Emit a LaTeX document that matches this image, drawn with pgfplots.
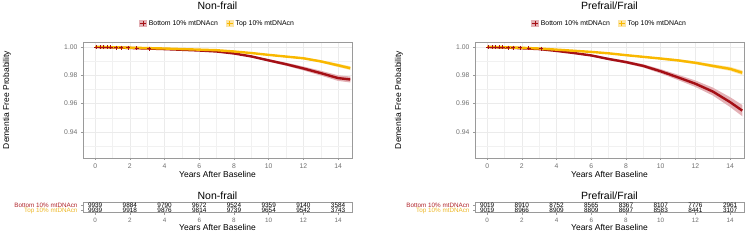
\documentclass[border=0pt]{standalone}
\usepackage{fontspec}
\setmainfont{Liberation Sans}
\usepackage{pgfplots}
\usepackage{pgfplotstable}
\pgfplotsset{compat=1.18}
\definecolor{redline}{HTML}{A50F15}
\definecolor{yelline}{HTML}{F9B800}
\definecolor{redband}{HTML}{E3B1B6}
\definecolor{yelband}{HTML}{FCE5A6}
\definecolor{ticktext}{HTML}{6E6E6E}
\definecolor{gridc}{HTML}{EBEBEB}
\definecolor{borderc}{HTML}{9A9A9A}
\definecolor{redlab}{HTML}{B0262C}
\definecolor{yellab}{HTML}{EDB82A}

% Non-frail, bottom 10%: estimate and 95% band (upper forward, lower back)
\pgfplotstableread{
t s
0 1.0000
1 0.9997
2 0.9993
3 0.9989
4 0.9985
5 0.9980
6 0.9975
7 0.9968
8 0.9954
9 0.9933
10 0.9905
11 0.9878
12 0.9848
13 0.9815
14 0.9780
14.7 0.9770
}\nfbot
\pgfplotstableread{
t v
0 1.0000
1 0.9998
2 0.9994
3 0.9990
4 0.9987
5 0.9982
6 0.9977
7 0.9971
8 0.9958
9 0.9939
10 0.9914
11 0.9889
12 0.9862
13 0.9832
14 0.9800
14.7 0.9791
14.7 0.9749
14 0.9760
13 0.9798
12 0.9834
11 0.9867
10 0.9896
9 0.9927
8 0.9950
7 0.9965
6 0.9973
5 0.9978
4 0.9983
3 0.9988
2 0.9992
1 0.9996
0 1.0000
}\nfbotband
% Non-frail, top 10%
\pgfplotstableread{
t s
0 1.0000
1 0.9998
2 0.9995
3 0.9992
4 0.9989
5 0.9985
6 0.9981
7 0.9977
8 0.9968
9 0.9957
10 0.9944
11 0.9932
12 0.9920
13 0.9898
14 0.9870
14.7 0.9850
}\nftop
\pgfplotstableread{
t v
0 1.0000
1 0.9999
2 0.9996
3 0.9993
4 0.9990
5 0.9986
6 0.9983
7 0.9979
8 0.9971
9 0.9961
10 0.9949
11 0.9938
12 0.9927
13 0.9907
14 0.9882
14.7 0.9863
14.7 0.9837
14 0.9858
13 0.9889
12 0.9913
11 0.9926
10 0.9939
9 0.9953
8 0.9965
7 0.9975
6 0.9979
5 0.9984
4 0.9988
3 0.9991
2 0.9994
1 0.9997
0 1.0000
}\nftopband
% Prefrail/Frail, bottom 10%
\pgfplotstableread{
t s
0 1.0000
1 0.9996
2 0.9991
3 0.9985
4 0.9972
5 0.9957
6 0.9940
7 0.9915
8 0.9893
9 0.9866
10 0.9828
11 0.9785
12 0.9740
13 0.9685
14 0.9610
14.7 0.9550
}\pfbot
\pgfplotstableread{
t v
0 1.0000
1 0.9997
2 0.9992
3 0.9986
4 0.9975
5 0.9961
6 0.9945
7 0.9923
8 0.9903
9 0.9878
10 0.9843
11 0.9804
12 0.9763
13 0.9713
14 0.9645
14.7 0.9590
14.7 0.9510
14 0.9575
13 0.9657
12 0.9717
11 0.9766
10 0.9813
9 0.9854
8 0.9883
7 0.9907
6 0.9935
5 0.9953
4 0.9969
3 0.9984
2 0.9990
1 0.9995
0 1.0000
}\pfbotband
% Prefrail/Frail, top 10%
\pgfplotstableread{
t s
0 1.0000
1 0.9998
2 0.9994
3 0.9989
4 0.9981
5 0.9973
6 0.9965
7 0.9955
8 0.9942
9 0.9930
10 0.9918
11 0.9905
12 0.9888
13 0.9866
14 0.9845
14.7 0.9818
}\pftop
\pgfplotstableread{
t v
0 1.0000
1 0.9999
2 0.9995
3 0.9990
4 0.9983
5 0.9975
6 0.9968
7 0.9959
8 0.9947
9 0.9936
10 0.9925
11 0.9914
12 0.9898
13 0.9878
14 0.9859
14.7 0.9834
14.7 0.9802
14 0.9831
13 0.9854
12 0.9878
11 0.9896
10 0.9911
9 0.9924
8 0.9937
7 0.9951
6 0.9962
5 0.9971
4 0.9979
3 0.9988
2 0.9993
1 0.9997
0 1.0000
}\pftopband
% censoring marks (early)
\pgfplotstableread{
t s
0.05 1.0000
0.3 0.9999
0.5 0.9999
0.7 0.9998
0.9 0.9997
1.2 0.9996
1.5 0.9995
1.9 0.9994
2.4 0.9992
3.1 0.9989
}\cens
% number at risk
\pgfplotstableread{
t r n
0 2 9939
2 2 9884
4 2 9790
6 2 9672
8 2 9524
10 2 9359
12 2 9140
14 2 3584
0 1 9939
2 1 9918
4 1 9876
6 1 9814
8 1 9739
10 1 9654
12 1 9542
14 1 3743
}\nfrisk
\pgfplotstableread{
t r n
0 2 9019
2 2 8910
4 2 8752
6 2 8565
8 2 8367
10 2 8107
12 2 7776
14 2 2961
0 1 9019
2 1 8966
4 1 8909
6 1 8809
8 1 8697
10 1 8583
12 1 8441
14 1 3107
}\pfrisk

\pgfplotsset{
  common/.style={
    scale only axis, width=269pt,
    xmin=-0.7, xmax=14.8,
    xtick={0,2,...,14}, xtick pos=left, ytick pos=left,
    tick align=outside, major tick length=2pt,
    axis line style={borderc, line width=0.6pt},
    tick style={borderc, line width=0.5pt},
    /pgf/number format/assume math mode=true,
    ticklabel style={font=\fontsize{6.8}{8}\selectfont, text=ticktext},
    xlabel={Years After Baseline},
    label style={font=\fontsize{8.5}{10}\selectfont, inner sep=0pt},
    every axis title shift=0pt,
    title style={font=\fontsize{10.5}{12}\selectfont, anchor=base, inner sep=0pt},
  },
  kmaxis/.style={
    common, height=116pt,
    ymin=0.9215, ymax=1.0035,
    ytick={0.94,0.96,0.98,1.00},
    minor xtick={1,3,...,13}, minor ytick={0.93,0.95,0.97,0.99},
    minor tick length=0pt,
    grid=both,
    major grid style={gridc, line width=0.5pt},
    minor grid style={gridc!70, line width=0.3pt},
    yticklabel style={/pgf/number format/fixed, /pgf/number format/fixed zerofill, /pgf/number format/precision=2},
    ylabel={Dementia Free Probability},
    ylabel style={at={(axis description cs:-0.283,0.5)}, anchor=center},
    xlabel style={at={(axis description cs:0.5,-0.11)}, anchor=north},
    title style={at={(axis description cs:0.5,1.284)}},
    legend style={at={(axis description cs:0.5,1.16)}, anchor=center, draw=none, fill=none,
      font=\fontsize{6.9}{8}\selectfont,
      /tikz/every even column/.append style={column sep=6pt}},
    legend columns=2, legend cell align=left,
  },
  tabaxis/.style={
    common, height=10pt,
    ymin=0.5, ymax=2.5, ytick={1,2},
    ticklabel style={font=\fontsize{6.3}{7}\selectfont},
    yticklabel style={inner ysep=0pt, text height=4.2pt, text depth=0pt},
    yticklabels={\textcolor{yellab}{Top 10\% mtDNAcn},\textcolor{redlab}{Bottom 10\% mtDNAcn}},
    xmajorgrids, major grid style={gridc, line width=0.4pt},
    xlabel style={at={(axis description cs:0.5,-1.12)}, anchor=north},
    title style={at={(axis description cs:0.5,1.27)}},
  },
  riskplot/.style={draw=none, mark=none,
    nodes near coords, point meta=explicit symbolic,
    nodes near coords style={anchor=center, font=\fontsize{6.4}{7}\selectfont, text=black, inner sep=0pt}},
}

\newcommand{\redkey}{\addlegendimage{legend image code/.code={
  \fill[redband] (0pt,-3.2pt) rectangle (6.5pt,3.2pt);
  \draw[redline,line width=1.3pt] (0pt,0pt)--(6.5pt,0pt);
  \draw[redline,line width=0.8pt] (3.25pt,-2.6pt)--(3.25pt,2.6pt);}}}
\newcommand{\yelkey}{\addlegendimage{legend image code/.code={
  \fill[yelband] (0pt,-3.2pt) rectangle (6.5pt,3.2pt);
  \draw[yelline,line width=1.3pt] (0pt,0pt)--(6.5pt,0pt);
  \draw[yelline,line width=0.8pt] (3.25pt,-2.6pt)--(3.25pt,2.6pt);}}}

\begin{document}
\begin{tikzpicture}
\useasboundingbox (0,0) rectangle (745pt,243pt);

% ---------- Left: Non-frail ----------
\begin{axis}[kmaxis, at={(83pt,85pt)}, anchor=south west, title={Non-frail}]
  \redkey \addlegendentry{Bottom 10\% mtDNAcn}
  \yelkey \addlegendentry{Top 10\% mtDNAcn}
  \addplot[fill=redband, draw=none, forget plot] table[x=t,y=v]{\nfbotband};
  \addplot[fill=yelband, draw=none, forget plot] table[x=t,y=v]{\nftopband};
  \addplot[redline, line width=2.4pt, forget plot] table[x=t,y=s]{\nfbot};
  \addplot[yelline, line width=2.4pt, forget plot] table[x=t,y=s]{\nftop};
  \addplot[only marks, mark=+, mark size=2pt, redline, line width=0.7pt, forget plot] table[x=t,y=s]{\cens};
\end{axis}

\begin{axis}[tabaxis, at={(83pt,30.3pt)}, anchor=south west, title={Non-frail}]
  \addplot[riskplot] table[x=t,y=r,meta=n]{\nfrisk};
\end{axis}

% ---------- Right: Prefrail/Frail ----------
\begin{axis}[kmaxis, at={(475pt,85pt)}, anchor=south west, title={Prefrail/Frail}]
  \redkey \addlegendentry{Bottom 10\% mtDNAcn}
  \yelkey \addlegendentry{Top 10\% mtDNAcn}
  \addplot[fill=redband, draw=none, forget plot] table[x=t,y=v]{\pfbotband};
  \addplot[fill=yelband, draw=none, forget plot] table[x=t,y=v]{\pftopband};
  \addplot[redline, line width=2.4pt, forget plot] table[x=t,y=s]{\pfbot};
  \addplot[yelline, line width=2.4pt, forget plot] table[x=t,y=s]{\pftop};
  \addplot[only marks, mark=+, mark size=2pt, redline, line width=0.7pt, forget plot] table[x=t,y=s]{\cens};
\end{axis}

\begin{axis}[tabaxis, at={(475pt,30.3pt)}, anchor=south west, title={Prefrail/Frail}]
  \addplot[riskplot] table[x=t,y=r,meta=n]{\pfrisk};
\end{axis}
\end{tikzpicture}
\end{document}
